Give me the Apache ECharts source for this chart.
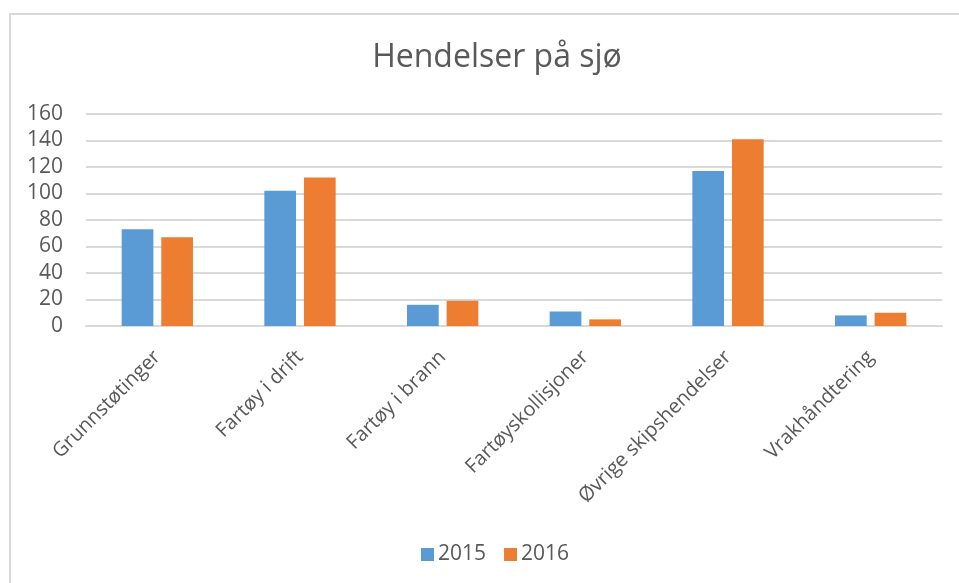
<!DOCTYPE html>
<html>
<head>
<meta charset="utf-8">
<script src="https://cdn.jsdelivr.net/npm/echarts@6/dist/echarts.min.js"></script>
<style>html,body{margin:0;padding:0;background:#fff;}#c{width:959px;height:583px;}</style>
</head>
<body>
<div id="c"></div>
<script>
const categories = ['Grunnstøtinger', 'Fartøy i drift', 'Fartøy i brann', 'Fartøyskollisjoner', 'Øvrige skipshendelser', 'Vrakhåndtering'];
const values2015 = [73, 102, 16, 11, 117, 8];
const values2016 = [67, 112, 19, 5, 141, 10];
const seriesNames = ['2015', '2016'];

const FONT = '"Open Sans", "Noto Sans", sans-serif';
const chart = echarts.init(document.getElementById('c'), null, {renderer: 'canvas'});
chart.setOption({
  animation: false,
  backgroundColor: '#fff',
  color: ['#5B9BD5', '#ED7D31'],
  graphic: [{
    type: 'rect',
    shape: {x: 10, y: 14, width: 1000, height: 1000},
    style: {fill: 'none', stroke: '#d9d9d9', lineWidth: 2},
    silent: true
  }],
  title: {
    text: 'Hendelser på sjø',
    left: 492, top: 37, textAlign: 'center',
    textStyle: {fontFamily: FONT, fontSize: 32, fontWeight: 'normal', color: '#595959'}
  },
  legend: {
    data: seriesNames,
    left: 416, top: 539,
    itemWidth: 13, itemHeight: 13, itemGap: 18,
    icon: 'rect',
    textStyle: {fontFamily: FONT, fontSize: 21, color: '#595959', padding: [0, 0, 0, -1]}
  },
  grid: {left: 86, right: 17, top: 114, bottom: 257, containLabel: false},
  xAxis: {
    type: 'category',
    data: categories,
    axisTick: {show: false},
    axisLine: {lineStyle: {color: '#d9d9d9', width: 2}},
    axisLabel: {rotate: 45, margin: 28, interval: 0, fontFamily: FONT, fontSize: 20, color: '#595959'}
  },
  yAxis: {
    type: 'value', min: 0, max: 160, interval: 20,
    axisLine: {show: false}, axisTick: {show: false},
    splitLine: {lineStyle: {color: '#d9d9d9', width: 2}},
    axisLabel: {margin: 23, fontFamily: FONT, fontSize: 21, color: '#595959'}
  },
  series: [
    {name: seriesNames[0], type: 'bar', data: values2015, barGap: '25%', barCategoryGap: '50%'},
    {name: seriesNames[1], type: 'bar', data: values2016, barGap: '25%', barCategoryGap: '50%'}
  ]
});
</script>
</body>
</html>
